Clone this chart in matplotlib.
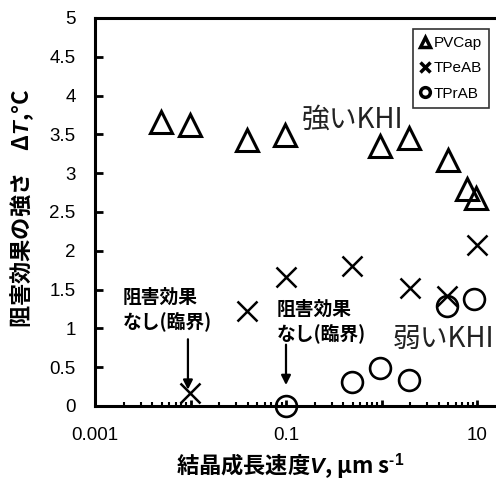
import matplotlib
matplotlib.use("Agg")
import matplotlib.pyplot as plt
from matplotlib.ticker import LogLocator, FuncFormatter, MultipleLocator, NullFormatter
from matplotlib.lines import Line2D
import numpy as np

# ---- data ----
v_pvcap = [0.0049, 0.0099, 0.039, 0.098, 0.96, 1.94, 4.97, 7.9, 9.8]
dt_pvcap = [3.66, 3.62, 3.43, 3.49, 3.35, 3.45, 3.17, 2.80, 2.68]

v_tpeab = [0.0099, 0.039, 0.099, 0.49, 1.99, 4.85, 10.0]
dt_tpeab = [0.17, 1.22, 1.66, 1.80, 1.52, 1.42, 2.07]

v_tprab = [0.1, 0.49, 0.96, 1.94, 4.85, 9.3]
dt_tprab = [0.0, 0.31, 0.49, 0.33, 1.29, 1.38]

series_names = ["PVCap", "TPeAB", "TPrAB"]
x_tick_labels = {0.001: "0.001", 0.1: "0.1", 10: "10"}

plt.rcParams['mathtext.fontset'] = 'custom'
plt.rcParams['mathtext.rm'] = 'Liberation Sans:bold'
plt.rcParams['mathtext.it'] = 'Liberation Sans:italic:bold'
plt.rcParams['mathtext.bf'] = 'Liberation Sans:bold'

latin_cjk = ['Liberation Sans', 'Noto Sans CJK JP']
cjk_first = ['Noto Sans CJK JP', 'Liberation Sans']

W, H = 496, 483
fig = plt.figure(figsize=(W / 100, H / 100), dpi=100)
left, right, top, bottom = 95, 496, 18, 406
ax = fig.add_axes([left / W, 1 - bottom / H, (right - left) / W, (bottom - top) / H])

ax.set_xscale('log')
ax.set_xlim(0.001, 10 ** (-3 + (right - left) / 95.5))
ax.set_ylim(0, 5)

ax.plot(v_pvcap, dt_pvcap, linestyle='none', marker='^', ms=16, mew=2.2,
        mfc='none', mec='black', clip_on=False)
ax.plot(v_tpeab, dt_tpeab, linestyle='none', marker='x', ms=15, mew=1.8,
        mec='black', clip_on=False)
ax.plot(v_tprab, dt_tprab, linestyle='none', marker='o', ms=15, mew=1.9,
        mfc='none', mec='black', clip_on=False)

# spines
for s in ['left', 'top', 'bottom']:
    ax.spines[s].set_linewidth(2.2)
ax.spines['right'].set_visible(False)

# ticks
ax.yaxis.set_major_locator(MultipleLocator(0.5))
ax.yaxis.set_major_formatter(FuncFormatter(lambda v, p: f"{v:g}"))
ax.xaxis.set_major_locator(LogLocator(base=10, numticks=10))
ax.xaxis.set_minor_locator(LogLocator(base=10, subs=np.arange(2, 10), numticks=20))
ax.xaxis.set_minor_formatter(NullFormatter())

def xfmt(v, p):
    for k, lab in x_tick_labels.items():
        if abs(np.log10(v) - np.log10(k)) < 1e-6:
            return lab
    return ""
ax.xaxis.set_major_formatter(FuncFormatter(xfmt))

ax.tick_params(axis='y', direction='in', length=6, width=2, pad=14, labelsize=13.5,
               right=False)
ax.tick_params(axis='x', which='major', direction='in', length=4, width=2, pad=15,
               labelsize=13.5, top=False)
ax.tick_params(axis='x', which='minor', direction='in', length=3, width=1.5, top=False)
for lab in ax.get_xticklabels() + ax.get_yticklabels():
    lab.set_fontfamily(latin_cjk)

# labels
fig.text(22 / W, 1 - 208 / H, "阻害効果の強さ　Δ$\\it{T}$,°C", rotation=90,
         ha='center', va='center', fontsize=16, fontweight='bold', family=cjk_first)
fig.text(290 / W, 1 - 466 / H, "結晶成長速度$\\it{V}$, μm s$^{\\text{-1}}$",
         ha='center', va='center', fontsize=16, fontweight='bold', family=cjk_first)

# annotations
ax.text(0.00196, 1.52, "阻害効果\nなし(臨界)", ha='left', va='top', fontsize=13.5,
        fontweight='bold', family=cjk_first, linespacing=1.25)
ax.text(0.0806, 1.37, "阻害効果\nなし(臨界)", ha='left', va='top', fontsize=13.5,
        fontweight='bold', family=cjk_first, linespacing=1.25)
arrow = dict(arrowstyle='-|>', color='black', lw=1.6, mutation_scale=14,
             shrinkA=0, shrinkB=0)
ax.annotate("", xy=(0.0094, 0.21), xytext=(0.0094, 0.86), arrowprops=arrow)
ax.annotate("", xy=(0.1, 0.27), xytext=(0.1, 0.79), arrowprops=arrow)

ax.text(0.147, 3.69, "強いKHI", ha='left', va='center', fontsize=20,
        family=cjk_first, color='#222222')
ax.text(1.32, 0.86, "弱いKHI", ha='left', va='center', fontsize=20,
        family=cjk_first, color='#222222')

# legend
handles = [
    Line2D([], [], linestyle='none', marker='^', ms=7, mew=2.5, mfc='none', mec='black'),
    Line2D([], [], linestyle='none', marker='x', ms=7, mew=2.5, mec='black'),
    Line2D([], [], linestyle='none', marker='o', ms=7, mew=2.5, mfc='none', mec='black'),
]
leg = ax.legend(handles, series_names, loc='upper right',
                bbox_to_anchor=(489 / W, 1 - 29 / H), bbox_transform=fig.transFigure,
                borderaxespad=0, frameon=True, fancybox=False, handlelength=0.6,
                handletextpad=0.3, borderpad=0.45, labelspacing=0.75,
                prop={'family': 'Liberation Sans', 'size': 11})
leg.get_frame().set_edgecolor('black')
leg.get_frame().set_linewidth(1.2)

fig.savefig("out.png", dpi=100)
